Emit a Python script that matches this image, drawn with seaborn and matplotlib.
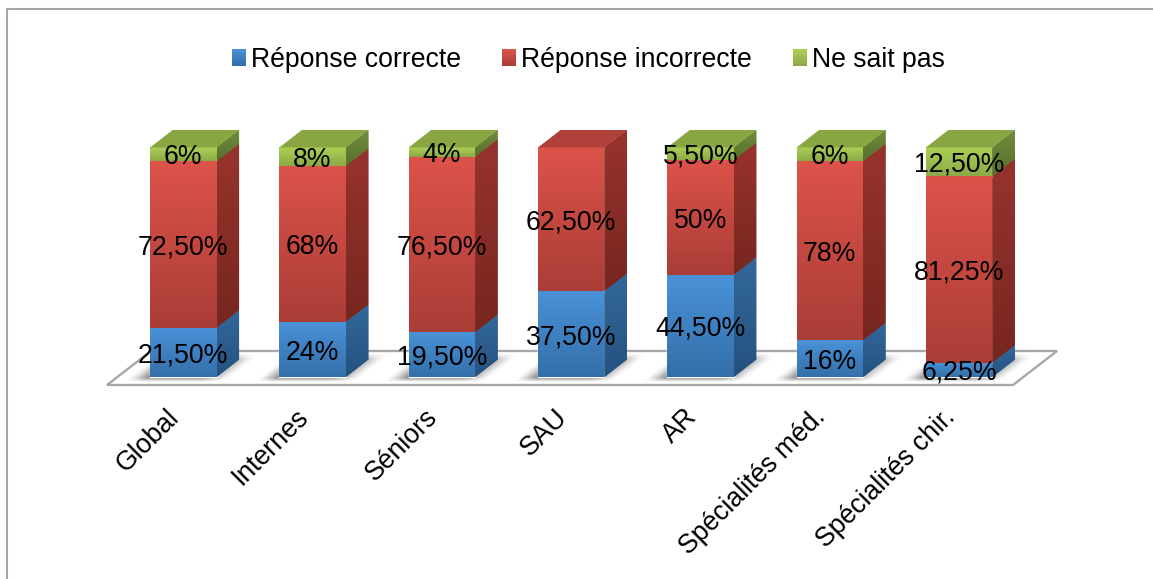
import numpy as np
import pandas as pd
import matplotlib
matplotlib.use("Agg")
import matplotlib.pyplot as plt
from matplotlib.colors import to_rgb
from matplotlib.legend_handler import HandlerBase
from matplotlib.lines import Line2D
from matplotlib.patches import Polygon, Patch, Rectangle
from matplotlib.transforms import ScaledTranslation
import seaborn as sns

groupes = ["Global", "Internes", "Séniors", "SAU", "AR", "Spécialités méd.", "Spécialités chir."]
correcte = [21.5, 24, 19.5, 37.5, 44.5, 16, 6.25]
incorrecte = [72.5, 68, 76.5, 62.5, 50, 78, 81.25]
ne_sait_pas = [6, 8, 4, 0, 5.5, 6, 12.5]
series = ["Réponse correcte", "Réponse incorrecte", "Ne sait pas"]

# face colours per series: front top / front bottom / side top / side bottom / top face
palette = {
    "Réponse correcte": ("#4a92d8", "#346fa9", "#33689c", "#24527f", "#2f6699"),
    "Réponse incorrecte": ("#dc534a", "#aa3d37", "#98332d", "#772620", "#b0403a"),
    "Ne sait pas": ("#acd055", "#8caa47", "#728e3b", "#566f2c", "#8aa642"),
}

W, H = 1153, 579
X0, STEP = 183.3, 129.3          # pixel of first category, pixels per category
Y0, Y100 = 377.0, 147.5          # pixels of 0 % and 100 %
PX_Y = (Y0 - Y100) / 100
DX, DY = 22.5 / STEP, 17.5 / PX_Y  # 3D depth in data units
BAR_W = 66.5 / STEP

sns.set_theme(style="white")
plt.rcParams["font.family"] = ["Liberation Sans", "DejaVu Sans"]
plt.rcParams["text.color"] = "black"
FS = 19.2

df = pd.DataFrame({"groupe": groupes, series[0]: correcte, series[1]: incorrecte, series[2]: ne_sait_pas})
long = df.melt(id_vars="groupe", var_name="serie", value_name="valeur")

fig = plt.figure(figsize=(W / 100, H / 100), dpi=100, facecolor="white")
ax = fig.add_axes([0, 1 - Y0 / H, 1, (Y0 - Y100) / H])
ax.patch.set_visible(False)


def gradient(poly, c_top, c_bot, z):
    xy = poly.get_xy()
    g = np.linspace(0, 1, 128)[:, None, None]
    img = (1 - g) * np.array(to_rgb(c_top))[None, None, :] + g * np.array(to_rgb(c_bot))[None, None, :]
    im = ax.imshow(img, extent=(xy[:, 0].min(), xy[:, 0].max(), xy[:, 1].min(), xy[:, 1].max()),
                   aspect="auto", origin="upper", zorder=z, interpolation="bilinear")
    im.set_clip_box(fig.bbox)
    im.set_clip_path(poly)


def face(points, c_top, c_bot, z=2):
    poly = Polygon(points, closed=True, facecolor=c_bot, edgecolor="none", clip_on=False, zorder=z)
    ax.add_patch(poly)
    gradient(poly, c_top, c_bot, z + 0.1)


def smooth(t):
    t = np.clip(t, 0, 1)
    return t * t * (3 - 2 * t)


# floor
fx0, fx1 = (107 - X0) / STEP, (1013 - X0) / STEP
fy = -8 / PX_Y
fdx, fdy = 44 / STEP, 34 / PX_Y
floor = Polygon([(fx0, fy), (fx1, fy), (fx1 + fdx, fy + fdy), (fx0 + fdx, fy + fdy)], closed=True,
                facecolor="white", edgecolor="#a8a8a8", lw=1.7, clip_on=False, zorder=0.5)
ax.add_patch(floor)

# soft shadows on the floor, blurred footprints of the bars
for i in range(len(groupes)):
    ex0, ex1 = i - 60 / STEP, i + 90 / STEP
    ey0, ey1 = -8 / PX_Y, 26 / PX_Y
    xs = np.linspace(ex0, ex1, 150)
    ys = np.linspace(ey1, ey0, 34)
    gx, gy = np.meshgrid((xs - i) * STEP, ys * PX_Y)   # pixels around the bar centre
    skew = gx - gy * 22.5 / 17.5
    sx = smooth((skew + 55) / 25) * smooth((50 - skew) / 30)
    sy = smooth((gy + 6) / 6) * smooth((25 - gy) / 10)
    rgba = np.zeros(gx.shape + (4,))
    rgba[..., :3] = 0.25
    rgba[..., 3] = 0.6 * sx * sy
    im = ax.imshow(rgba, extent=(ex0, ex1, ey0, ey1), aspect="auto", zorder=0.6, interpolation="bilinear")
    im.set_clip_box(fig.bbox)
    im.set_clip_path(floor)

# front faces through seaborn
bottoms = np.zeros(len(groupes))
for s in series:
    sub = long[long["serie"] == s]
    sns.barplot(data=sub, x="groupe", y="valeur", order=groupes, color=palette[s][0], bottom=bottoms,
                width=BAR_W, errorbar=None, saturation=1, ax=ax, zorder=2, label=s)
    cont = ax.containers[-1]
    for i, rect in enumerate(cont):
        v = sub["valeur"].iloc[i]
        if v <= 0:
            continue
        x, y, w, h = rect.get_x(), rect.get_y(), rect.get_width(), rect.get_height()
        rect.set_clip_on(False)
        face([(x, y), (x + w, y), (x + w, y + h), (x, y + h)], palette[s][0], palette[s][1], 2)
        face([(x + w, y), (x + w + DX, y + DY), (x + w + DX, y + h + DY), (x + w, y + h)],
             palette[s][2], palette[s][3], 2)
    bottoms = bottoms + sub["valeur"].to_numpy()

# top faces, coloured by the last non-empty series of each bar
for i in range(len(groupes)):
    top_s = series[2] if ne_sait_pas[i] > 0 else series[1]
    x, w, y = i - BAR_W / 2, BAR_W, 100
    ax.add_patch(Polygon([(x, y), (x + w, y), (x + w + DX, y + DY), (x + DX, y + DY)], closed=True,
                         facecolor=palette[top_s][4], edgecolor="none", clip_on=False, zorder=2.5))


def fmt(v):
    return f"{int(v)}%" if float(v).is_integer() else f"{v:.2f}%".replace(".", ",")


# data labels
bottoms = np.zeros(len(groupes))
for vals in (correcte, incorrecte, ne_sait_pas):
    for i, v in enumerate(vals):
        if v > 0:
            ax.annotate(fmt(v), (i, bottoms[i] + v / 2), xytext=(0, -2.2), textcoords="offset points",
                        ha="center", va="center", fontsize=FS, color="black", zorder=6,
                        annotation_clip=False)
    bottoms = bottoms + np.array(vals)

ax.set_xlim(-X0 / STEP, (W - X0) / STEP)
ax.set_ylim(0, 100)
ax.set_yticks([])
ax.set_xlabel("")
ax.set_ylabel("")
sns.despine(ax=ax, left=True, bottom=True)
ax.set_xticks(range(len(groupes)))
ax.set_xticklabels(groupes, rotation=45, ha="right", va="top", rotation_mode="anchor", fontsize=FS, color="black")
ax.tick_params(axis="x", length=0, pad=19.6)
shift = ScaledTranslation(-17 / 100, 0, fig.dpi_scale_trans)
for lbl in ax.get_xticklabels():
    lbl.set_transform(lbl.get_transform() + shift)


# legend with shaded squares
class ShadedSquare(HandlerBase):
    def __init__(self, c_top, c_bot):
        super().__init__()
        self.c_top, self.c_bot = np.array(to_rgb(c_top)), np.array(to_rgb(c_bot))

    def create_artists(self, legend, orig, xd, yd, width, height, fontsize, trans):
        n = 10
        out = []
        for k in range(n):
            c = self.c_top + (self.c_bot - self.c_top) * k / (n - 1)
            out.append(Rectangle((-xd, -yd + height * (1 - (k + 1) / n)), width, height / n + 0.2,
                                 facecolor=c, edgecolor="none", transform=trans))
        return out


handles = [Patch(label=s) for s in series]
hmap = {h: ShadedSquare(palette[s][0], palette[s][1]) for h, s in zip(handles, series)}
leg = ax.legend(handles=handles, handler_map=hmap, ncol=3, frameon=False, fontsize=FS, loc="center",
                bbox_to_anchor=(588.5 / W, 1 - 60 / H), bbox_transform=fig.transFigure,
                handlelength=0.53, handleheight=0.58, handletextpad=0.19, columnspacing=1.53,
                borderpad=0, borderaxespad=0, labelcolor="black")

# outer frame
fig.add_artist(Line2D([7 / W, 7 / W, 1], [0, 1 - 9 / H, 1 - 9 / H], color="#a6a6a6", lw=1.5,
                      transform=fig.transFigure))

fig.savefig("out.png", dpi=100)
